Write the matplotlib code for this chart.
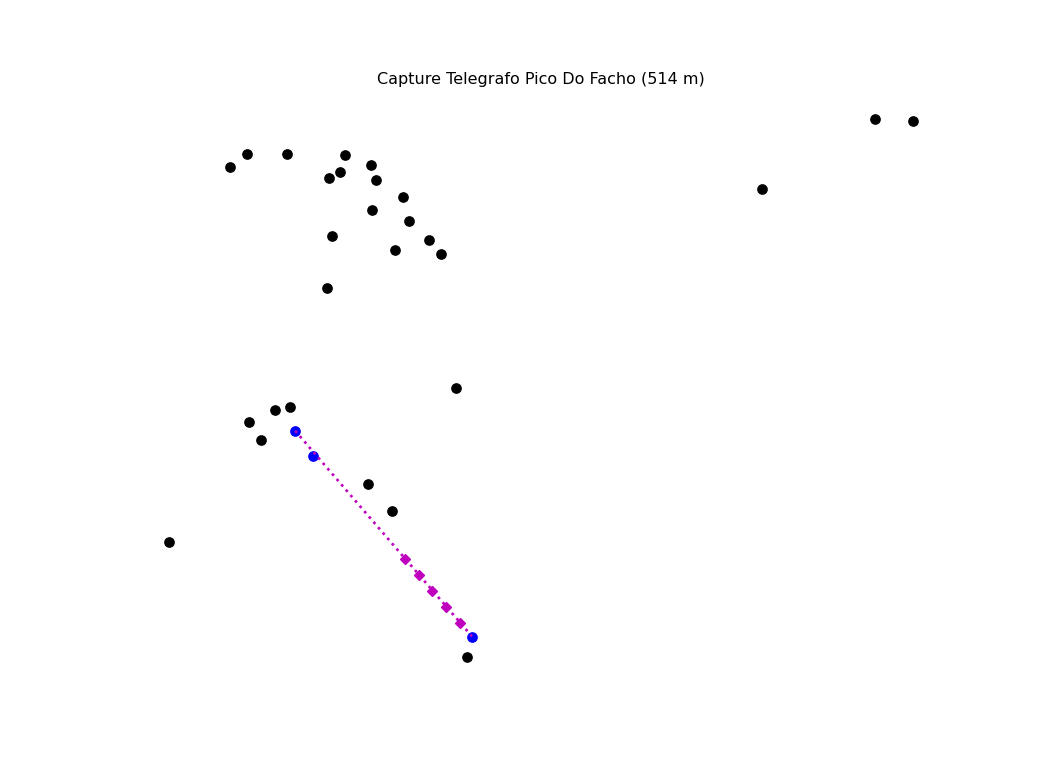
import matplotlib
matplotlib.use("Agg")
import matplotlib.pyplot as plt

# peaks visible from the station (black)
peak_x = [230, 247, 287, 345, 329, 340, 371, 376, 403, 372, 409, 332, 429, 395, 441, 327,
          762, 875, 913, 456, 249, 275, 290, 261, 368, 392, 169, 467]
peak_y = [601, 614, 614, 613, 590, 596, 603, 588, 571, 558, 547, 532, 528, 518, 514, 480,
          579, 649, 647, 380, 346, 358, 361, 328, 284, 257, 226, 111]

# captured points (blue)
capture_x = [295, 313, 472]
capture_y = [337, 312, 131]

# line of sight and intermediate samples (magenta)
sight_x = [295, 472]
sight_y = [337, 131]
sample_x = [405, 419, 432, 446, 460]
sample_y = [209, 193, 177, 161, 145]

fig, ax = plt.subplots(figsize=(11, 8), dpi=96)

ax.plot(peak_x, peak_y, "o", color="black", markersize=7)
ax.plot(capture_x, capture_y, "o", color="blue", markersize=7)
ax.plot(sight_x, sight_y, ":", color="m", linewidth=2)
ax.plot(sample_x, sample_y, "D", color="m", markersize=5.5)

ax.set_title("Capture Telegrafo Pico Do Facho (514 m)")
ax.axis("off")

fig.savefig("out.png", dpi=96)
